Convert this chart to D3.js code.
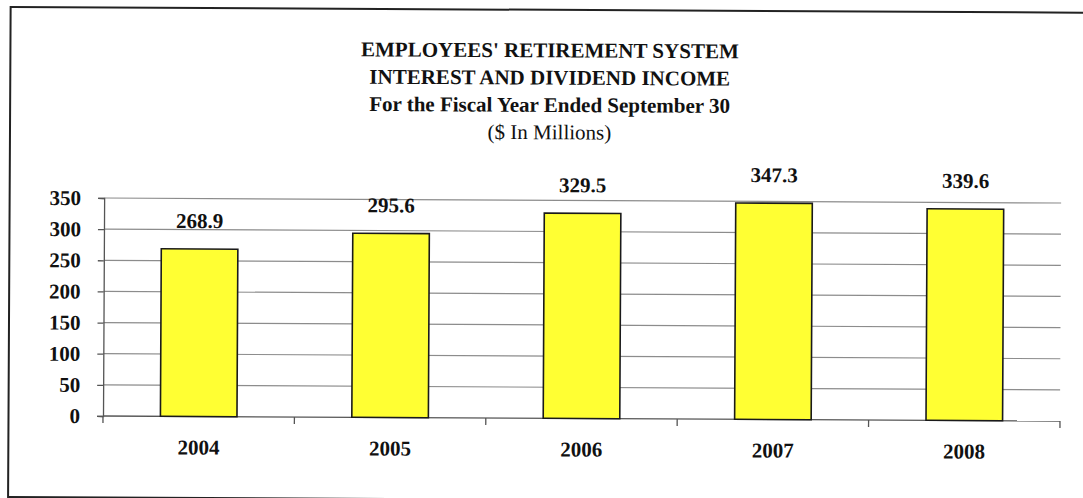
<!DOCTYPE html>
<html>
<head>
<meta charset="utf-8">
<script src="https://cdn.jsdelivr.net/npm/d3@7"></script>
<style>
  html, body { margin: 0; padding: 0; background: #fff; }
  svg { display: block; }
</style>
</head>
<body>
<svg id="chart" width="1083" height="498"></svg>
<script>
// Fiscal years and interest & dividend income ($ millions)
const years = ["2004", "2005", "2006", "2007", "2008"];
const income = [268.9, 295.6, 329.5, 347.3, 339.6];
const yTicks = [0, 50, 100, 150, 200, 250, 300, 350];
const titleLines = [
  "EMPLOYEES' RETIREMENT SYSTEM",
  "INTEREST AND DIVIDEND INCOME",
  "For the Fiscal Year Ended September 30",
  "($ In Millions)"
];

const SERIF = "'Liberation Serif', 'Times New Roman', 'DejaVu Serif', serif";
const FS = 21;

const svg = d3.select("#chart")
  .attr("font-family", SERIF);
const plot = { left: 103, right: 1060, top: 198, bottom: 416 };

// Whole page sits on a slight tilt
const root = svg.append("g")
  .attr("font-family", SERIF)
  .attr("transform", `rotate(0.3, ${plot.left}, ${plot.bottom})`);

// Outer frame
root.append("rect")
  .attr("x", 8.5).attr("y", 7.5)
  .attr("width", 1120).attr("height", 490)
  .attr("fill", "none")
  .attr("stroke", "#222")
  .attr("stroke-width", 2);

// Title block
const title = root.append("g");
titleLines.forEach((t, i) => {
  title.append("text")
    .attr("x", 548)
    .attr("y", 55 + i * 27.3)
    .attr("text-anchor", "middle")
    .attr("font-family", SERIF)
    .attr("font-size", FS)
    .attr("font-weight", i < 3 ? "bold" : "normal")
    .attr("fill", "#111")
    .text(t);
});

const x = d3.scaleBand()
  .domain(years)
  .range([plot.left, plot.right])
  .paddingInner(0.6)
  .paddingOuter(0.3);

const xTicks = d3.scaleBand().domain(years).range([plot.left, plot.right]);

const y = d3.scaleLinear()
  .domain([0, 350])
  .range([plot.bottom, plot.top]);

// Horizontal gridlines
root.append("g")
  .selectAll("line")
  .data(yTicks.filter(d => d > 0))
  .join("line")
  .attr("x1", plot.left).attr("x2", plot.right)
  .attr("y1", d => y(d)).attr("y2", d => y(d))
  .attr("stroke", "#8c8c8c")
  .attr("stroke-width", 1.2);

// Y axis
const yAxis = root.append("g")
  .attr("transform", `translate(${plot.left},0)`)
  .call(d3.axisLeft(y).tickValues(yTicks).tickSize(6).tickPadding(17).tickFormat(d3.format("d")));
yAxis.attr("font-family", SERIF);
yAxis.select(".domain").attr("stroke", "#555").attr("stroke-width", 1.3);
yAxis.selectAll(".tick line").attr("stroke", "#555").attr("stroke-width", 1.3);
yAxis.selectAll(".tick text")
  .attr("font-family", SERIF)
  .attr("font-size", FS)
  .attr("font-weight", "bold")
  .attr("fill", "#111");

// X axis baseline with tick marks at category boundaries
const xg = root.append("g");
xg.append("line")
  .attr("x1", plot.left).attr("x2", plot.right)
  .attr("y1", plot.bottom).attr("y2", plot.bottom)
  .attr("stroke", "#555").attr("stroke-width", 1.3);
const boundaries = [xTicks.range()[0]].concat(years.map(d => xTicks(d) + xTicks.bandwidth()));
xg.selectAll("line.tick")
  .data(boundaries)
  .join("line")
  .attr("class", "tick")
  .attr("x1", d => d).attr("x2", d => d)
  .attr("y1", plot.bottom).attr("y2", plot.bottom + 7)
  .attr("stroke", "#555").attr("stroke-width", 1.3);

// Bars
root.append("g")
  .selectAll("rect")
  .data(years.map((yr, i) => ({ yr, v: income[i] })))
  .join("rect")
  .attr("x", d => x(d.yr))
  .attr("y", d => y(d.v))
  .attr("width", x.bandwidth())
  .attr("height", d => y(0) - y(d.v))
  .attr("fill", "#ffff33")
  .attr("stroke", "#1a1a1a")
  .attr("stroke-width", 1.6);

// Value labels
root.append("g")
  .selectAll("text")
  .data(years.map((yr, i) => ({ yr, v: income[i] })))
  .join("text")
  .attr("x", d => x(d.yr) + x.bandwidth() / 2)
  .attr("y", d => y(d.v) - 21)
  .attr("text-anchor", "middle")
  .attr("font-family", SERIF)
  .attr("font-size", FS)
  .attr("font-weight", "bold")
  .attr("fill", "#111")
  .text(d => d3.format(".1f")(d.v));

// Category labels
root.append("g")
  .selectAll("text")
  .data(years)
  .join("text")
  .attr("x", d => xTicks(d) + xTicks.bandwidth() / 2)
  .attr("y", plot.bottom + 38)
  .attr("text-anchor", "middle")
  .attr("font-family", SERIF)
  .attr("font-size", FS)
  .attr("font-weight", "bold")
  .attr("fill", "#111")
  .text(d => d);
</script>
</body>
</html>
